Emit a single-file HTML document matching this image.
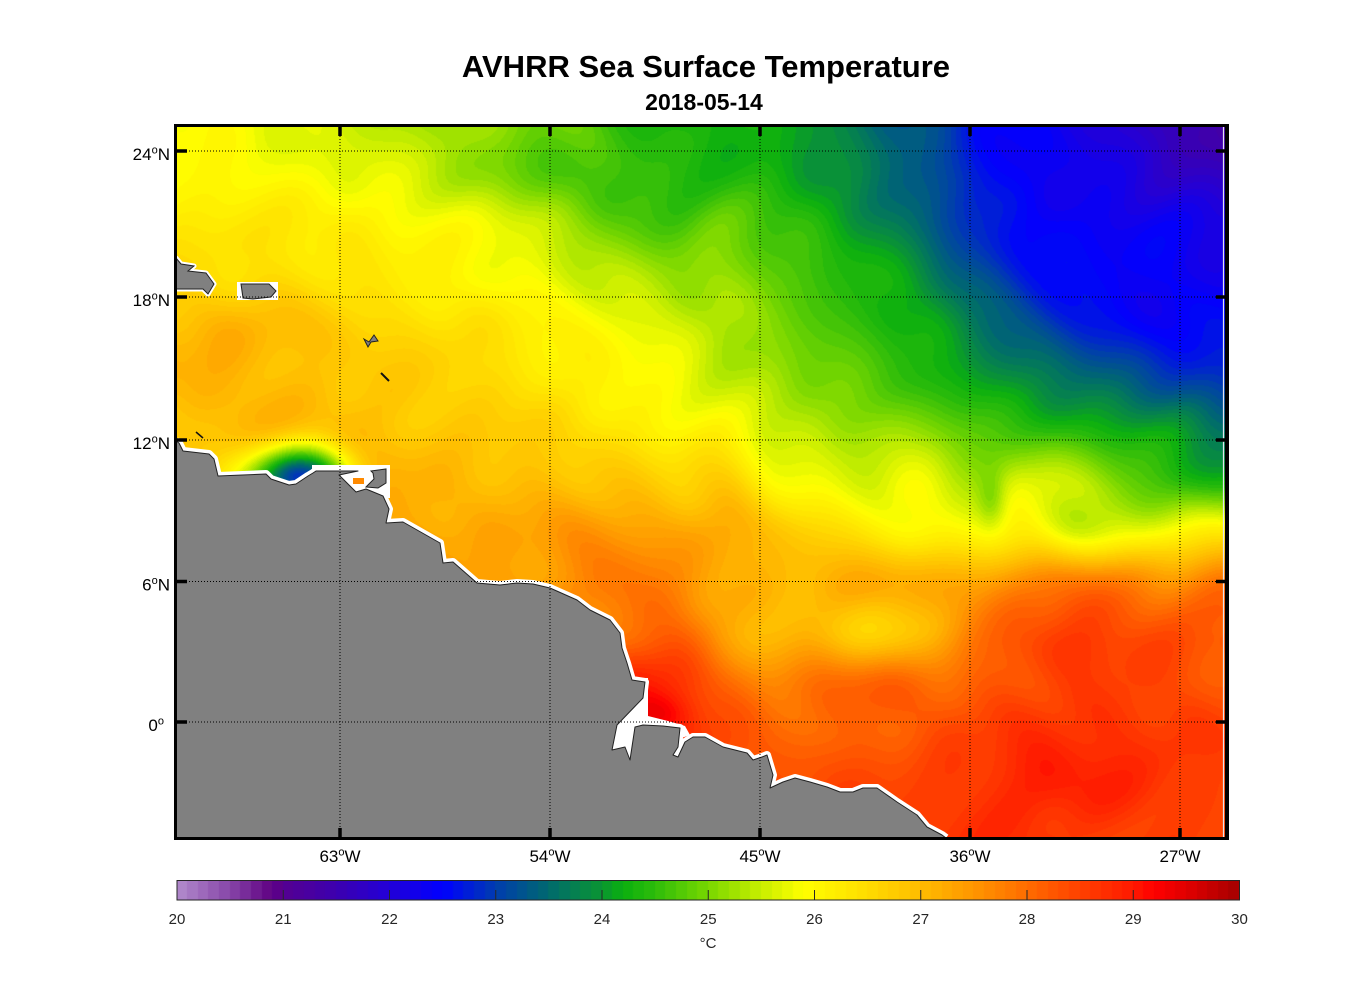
<!DOCTYPE html>
<html><head><meta charset="utf-8">
<style>
html,body{margin:0;padding:0;background:#fff;}
#wrap{position:relative;width:1356px;height:1000px;overflow:hidden;background:#fff;}
#map{position:absolute;left:177px;top:127px;}
#cb{position:absolute;left:177px;top:880px;}
svg{position:absolute;left:0;top:0;}
text{font-family:"Liberation Sans",Arial,sans-serif;}
</style></head>
<body><div id="wrap">
<canvas id="map" width="1048" height="710"></canvas>
<canvas id="cb" width="1063" height="20"></canvas>
<svg width="1356" height="1000" viewBox="0 0 1356 1000">
<defs><clipPath id="pc"><rect x="177" y="127" width="1048" height="710"/></clipPath></defs>
<g clip-path="url(#pc)">
  <!-- white no-data patches -->
  <rect x="312" y="465" width="78" height="33" fill="#fff"/>
  <polygon points="640,678 648,678 648,716 668,721 685,726 690,735 605,765 608,715" fill="#fff"/>
  <polyline points="176,441 179,443 183,451 209,454 214,459 218,476 266,474 271,479 289,485 296,484 308,476 313,473 316,471 358,471 339,475 356,492 366,489 383,496 389,509 386,523 403,522 440,543 443,563 453,562 477,583 500,585 517,583 533,584 550,588 577,600 590,610 610,620 620,633 622,648 627,663 632,680 645,682 643,698 617,725 612,750 625,747 630,760 635,727 643,725 663,726 680,728 678,747 673,755 678,757 685,742 693,737 705,737 723,747 747,753 753,760 762,757 767,755 773,775 770,788 783,782 795,778 810,782 827,787 840,792 853,792 863,788 877,788 897,802 917,815 927,827 942,835 946,838" fill="none" stroke="#fff" stroke-width="8" stroke-linejoin="round"/>
  <rect x="353" y="478" width="11" height="6" fill="#ff8a00"/>
  <!-- land -->
  <polygon points="176,441 179,443 183,451 209,454 214,459 218,476 266,474 271,479 289,485 296,484 308,476 313,473 316,471 358,471 339,475 356,492 366,489 383,496 389,509 386,523 403,522 440,543 443,563 453,562 477,583 500,585 517,583 533,584 550,588 577,600 590,610 610,620 620,633 622,648 627,663 632,680 645,682 643,698 617,725 612,750 625,747 630,760 635,727 643,725 663,726 680,728 678,747 673,755 678,757 685,742 693,737 705,737 723,747 747,753 753,760 762,757 767,755 773,775 770,788 783,782 795,778 810,782 827,787 840,792 853,792 863,788 877,788 897,802 917,815 927,827 942,835 946,838 946,842 172,842 172,441" fill="#808080" stroke="#222" stroke-width="1" stroke-linejoin="round"/>
  <!-- Trinidad -->
  <polygon points="371,471 386,469 386,483 378,488 366,487 374,479 373,473" fill="#808080" stroke="#222" stroke-width="1"/>
  <!-- Hispaniola -->
  <polygon points="176,258 181,264 194,266 188,271 206,273 214,284 208,294 203,289 176,289" fill="#808080" stroke="#fff" stroke-width="5" stroke-linejoin="round"/>
  <polygon points="176,258 181,264 194,266 188,271 206,273 214,284 208,294 203,289 176,289" fill="#808080" stroke="#222" stroke-width="1"/>
  <!-- Puerto Rico -->
  <rect x="237" y="282" width="41" height="18" fill="#fff"/>
  <polygon points="241,284 269,284 276,291 271,297 253,299 243,298" fill="#808080" stroke="#222" stroke-width="1"/>
  <!-- small islands -->
  <polygon points="364,339 369,342 374,335 378,341 371,342 368,347" fill="#808080" stroke="#222" stroke-width="1"/>
  <line x1="381" y1="373" x2="389" y2="381" stroke="#111" stroke-width="2"/>
  <line x1="196" y1="432" x2="203" y2="438" stroke="#111" stroke-width="1.5"/>
  <line x1="1223.5" y1="127" x2="1223.5" y2="837" stroke="#e4e4ee" stroke-width="1.2"/>
</g>
<!-- grid -->
<g stroke="#000" stroke-width="1" stroke-dasharray="1 2" fill="none">
  <line x1="177" y1="151" x2="1225" y2="151"/>
  <line x1="177" y1="297" x2="1225" y2="297"/>
  <line x1="177" y1="440" x2="1225" y2="440"/>
  <line x1="177" y1="581.5" x2="1225" y2="581.5"/>
  <line x1="177" y1="722" x2="1225" y2="722"/>
  <line x1="340" y1="127" x2="340" y2="837"/>
  <line x1="550" y1="127" x2="550" y2="837"/>
  <line x1="760" y1="127" x2="760" y2="837"/>
  <line x1="970" y1="127" x2="970" y2="837"/>
  <line x1="1180" y1="127" x2="1180" y2="837"/>
</g>
<!-- ticks -->
<g stroke="#000" stroke-width="3.5">
  <line x1="340" y1="127" x2="340" y2="136"/><line x1="550" y1="127" x2="550" y2="136"/><line x1="760" y1="127" x2="760" y2="136"/><line x1="970" y1="127" x2="970" y2="136"/><line x1="1180" y1="127" x2="1180" y2="136"/>
  <line x1="340" y1="828" x2="340" y2="837"/><line x1="550" y1="828" x2="550" y2="837"/><line x1="760" y1="828" x2="760" y2="837"/><line x1="970" y1="828" x2="970" y2="837"/><line x1="1180" y1="828" x2="1180" y2="837"/>
  <line x1="177" y1="151" x2="187" y2="151"/><line x1="177" y1="297" x2="187" y2="297"/><line x1="177" y1="440" x2="187" y2="440"/><line x1="177" y1="581.5" x2="187" y2="581.5"/><line x1="177" y1="722" x2="187" y2="722"/>
  <line x1="1216" y1="151" x2="1225" y2="151"/><line x1="1216" y1="297" x2="1225" y2="297"/><line x1="1216" y1="440" x2="1225" y2="440"/><line x1="1216" y1="581.5" x2="1225" y2="581.5"/><line x1="1216" y1="722" x2="1225" y2="722"/>
</g>
<!-- frame -->
<g stroke="#000">
  <line x1="175.5" y1="124" x2="175.5" y2="840" stroke-width="3"/>
  <line x1="174" y1="125.5" x2="1229" y2="125.5" stroke-width="3"/>
  <line x1="1227" y1="124" x2="1227" y2="840" stroke-width="4"/>
  <line x1="174" y1="838.5" x2="1229" y2="838.5" stroke-width="3"/>
</g>
<!-- titles -->
<text x="706" y="77" text-anchor="middle" font-size="31" font-weight="bold" fill="#000">AVHRR Sea Surface Temperature</text>
<text x="704" y="110" text-anchor="middle" font-size="23" font-weight="bold" fill="#000">2018-05-14</text>
<!-- lat labels -->
<g font-size="17" fill="#000" text-anchor="end">
  <text x="170" y="160">24<tspan font-size="11" dy="-6.5">o</tspan><tspan dy="6.5">N</tspan></text>
  <text x="170" y="306">18<tspan font-size="11" dy="-6.5">o</tspan><tspan dy="6.5">N</tspan></text>
  <text x="170" y="449">12<tspan font-size="11" dy="-6.5">o</tspan><tspan dy="6.5">N</tspan></text>
  <text x="170" y="590.5">6<tspan font-size="11" dy="-6.5">o</tspan><tspan dy="6.5">N</tspan></text>
  <text x="164" y="731">0<tspan font-size="11" dy="-6.5">o</tspan></text>
</g>
<!-- lon labels -->
<g font-size="17" fill="#000" text-anchor="middle">
  <text x="340" y="862">63<tspan font-size="11" dy="-6.5">o</tspan><tspan dy="6.5">W</tspan></text>
  <text x="550" y="862">54<tspan font-size="11" dy="-6.5">o</tspan><tspan dy="6.5">W</tspan></text>
  <text x="760" y="862">45<tspan font-size="11" dy="-6.5">o</tspan><tspan dy="6.5">W</tspan></text>
  <text x="970" y="862">36<tspan font-size="11" dy="-6.5">o</tspan><tspan dy="6.5">W</tspan></text>
  <text x="1180" y="862">27<tspan font-size="11" dy="-6.5">o</tspan><tspan dy="6.5">W</tspan></text>
</g>
<!-- colorbar frame & ticks -->
<rect x="177" y="880.5" width="1062.5" height="19.5" fill="none" stroke="#262626" stroke-width="1"/>
<g stroke="#262626" stroke-width="1">
  <line x1="283.25" y1="890" x2="283.25" y2="900"/><line x1="389.5" y1="890" x2="389.5" y2="900"/><line x1="495.75" y1="890" x2="495.75" y2="900"/><line x1="602" y1="890" x2="602" y2="900"/><line x1="708.25" y1="890" x2="708.25" y2="900"/><line x1="814.5" y1="890" x2="814.5" y2="900"/><line x1="920.75" y1="890" x2="920.75" y2="900"/><line x1="1027" y1="890" x2="1027" y2="900"/><line x1="1133.25" y1="890" x2="1133.25" y2="900"/>
</g>
<g font-size="15" fill="#262626" text-anchor="middle">
  <text x="177" y="924">20</text><text x="283.25" y="924">21</text><text x="389.5" y="924">22</text><text x="495.75" y="924">23</text><text x="602" y="924">24</text><text x="708.25" y="924">25</text><text x="814.5" y="924">26</text><text x="920.75" y="924">27</text><text x="1027" y="924">28</text><text x="1133.25" y="924">29</text><text x="1239.5" y="924">30</text>
  <text x="708" y="948">°C</text>
</g>
</svg>
</div>
<script>
(function(){
var G=[
[26.0,25.9,25.7,25.6,25.4,25.3,25.2,25.0,24.8,24.5,24.3,24.3,24.2,23.9,23.5,23.2,22.6,22.4,22.2,21.9,21.6,21.3],
[26.0,26.0,26.0,25.8,25.8,25.5,25.2,24.9,24.7,24.6,24.4,24.4,24.3,24.0,23.6,23.3,22.8,22.4,22.3,22.1,21.9,21.7],
[26.3,26.3,26.3,26.2,26.1,26.0,25.9,25.6,25.2,24.8,24.7,24.9,24.6,24.3,23.9,23.4,22.8,22.5,22.4,22.4,22.3,22.2],
[26.5,26.5,26.5,26.4,26.3,26.1,26.0,25.9,25.6,25.4,25.2,25.2,24.9,24.5,24.3,23.9,23.3,22.8,22.5,22.4,22.4,22.3],
[27.0,27.1,27.0,26.8,26.6,26.5,26.4,26.2,26.0,25.9,25.6,25.3,25.0,24.7,24.5,24.2,23.7,23.2,22.9,22.6,22.4,22.6],
[27.1,27.1,27.0,26.9,26.8,26.7,26.6,26.4,26.2,26.0,25.8,25.5,25.3,25.0,24.7,24.4,24.2,23.9,23.6,23.3,23.1,22.9],
[26.8,27.0,27.1,27.0,27.0,26.8,26.8,26.7,26.5,26.3,26.1,26.0,25.5,25.3,25.3,25.1,24.7,24.5,24.4,24.3,24.0,23.6],
[27.0,26.6,26.8,27.0,27.3,27.1,27.0,27.0,26.9,26.8,26.6,26.8,26.0,25.8,25.5,25.9,25.3,25.8,25.4,24.9,24.5,24.4],
[27.0,27.0,27.0,27.1,27.2,27.3,27.2,27.3,27.5,27.5,27.3,27.2,26.8,26.6,26.3,26.0,26.0,26.1,25.7,25.8,26.0,26.2],
[27.4,27.4,27.4,27.4,27.4,27.4,27.4,27.4,27.6,27.9,27.6,27.3,27.1,27.1,27.2,27.2,27.4,27.7,27.9,27.7,27.6,28.0],
[27.9,27.9,27.9,27.9,27.9,27.9,27.9,27.9,27.9,27.9,28.3,27.2,27.0,27.0,26.7,27.0,27.8,28.3,28.6,28.5,28.3,28.2],
[28.9,28.9,28.9,28.9,28.9,28.9,28.9,28.9,28.9,28.9,28.7,28.1,27.8,28.0,28.1,28.0,28.2,28.4,28.5,28.5,28.4,28.3],
[28.7,28.7,28.7,28.7,28.7,28.7,28.7,28.7,28.7,28.7,28.7,28.4,28.0,28.1,28.2,28.3,28.5,28.7,28.8,28.7,28.6,28.5],
[28.4,28.4,28.4,28.4,28.4,28.4,28.4,28.4,28.4,28.4,28.4,28.4,28.4,28.4,28.4,28.5,28.7,28.9,28.9,28.8,28.6,28.5],
[28.6,28.6,28.6,28.6,28.6,28.6,28.6,28.6,28.6,28.6,28.6,28.6,28.6,28.6,28.6,28.6,28.7,28.7,28.6,28.6,28.5,28.4]
];
var NX=22,NY=15,DX=50,DY=711/14;
var bumps=[[300,478,35,22,-3.9],[660,715,25,15,0.5],[992,500,10,20,-0.6]];
var cm=[[20,178,140,205],[20.5,135,70,168],[20.9,95,0,130],[21.0,85,0,145],[21.5,60,0,175],[22,35,0,215],[22.5,0,0,255],[23,0,60,175],[23.5,0,105,110],[24,10,150,50],[24.2,10,175,15],[24.5,45,188,10],[25,120,215,0],[25.5,200,238,0],[25.9,255,255,0],[26.5,255,220,0],[27,255,188,0],[27.5,255,150,0],[28,255,108,0],[28.5,255,65,0],[29,255,25,0],[29.2,255,0,0],[29.5,225,0,0],[30,165,0,0]];
function cmap(t){
  if(t<=cm[0][0])return [cm[0][1],cm[0][2],cm[0][3]];
  for(var k=1;k<cm.length;k++){
    if(t<=cm[k][0]){var a=cm[k-1],b=cm[k],f=(t-a[0])/(b[0]-a[0]);
      return [a[1]+(b[1]-a[1])*f,a[2]+(b[2]-a[2])*f,a[3]+(b[3]-a[3])*f];}
  }
  var l=cm[cm.length-1];return [l[1],l[2],l[3]];
}
var LUT=[];for(var q=0;q<100;q++){LUT.push(cmap(20+q*0.1+0.05));}
function lut(t){var q=Math.floor((t-20)*10);if(q<0)q=0;if(q>99)q=99;return LUT[q];}
function cr(p0,p1,p2,p3,t){return p1+0.5*t*(p2-p0+t*(2*p0-5*p1+4*p2-p3+t*(3*(p1-p2)+p3-p0)));}
function g(j,i){if(j<0)j=0;if(j>NY-1)j=NY-1;if(i<0)i=0;if(i>NX-1)i=NX-1;return G[j][i];}
function val(X,Y){
  var u=(X-176)/DX,v=(Y-126)/DY,i=Math.floor(u),j=Math.floor(v),fu=u-i,fv=v-j;
  var r=[];for(var m=-1;m<=2;m++){r.push(cr(g(j+m,i-1),g(j+m,i),g(j+m,i+1),g(j+m,i+2),fu));}
  var t=cr(r[0],r[1],r[2],r[3],fv);
  for(var b=0;b<bumps.length;b++){var B=bumps[b],dx=(X-B[0])/B[2],dy=(Y-B[1])/B[3];t+=B[4]*Math.exp(-0.5*(dx*dx+dy*dy));}
  t+=0.07*Math.sin(X*0.07+2*Math.sin(Y*0.031))+0.07*Math.sin(Y*0.06+2*Math.sin(X*0.027));
  return t;
}
var c=document.getElementById('map'),ctx=c.getContext('2d');
var W=c.width,H=c.height,img=ctx.createImageData(W,H),d=img.data;
for(var py=0;py<H;py++){for(var px=0;px<W;px++){
  var col=lut(val(177+px+0.5,127+py+0.5)),o=(py*W+px)*4;
  d[o]=col[0];d[o+1]=col[1];d[o+2]=col[2];d[o+3]=255;}}
ctx.putImageData(img,0,0);
var cb=document.getElementById('cb'),cx=cb.getContext('2d');
var w=1062.5/100;
for(var q2=0;q2<100;q2++){var cc=LUT[q2];cx.fillStyle='rgb('+Math.round(cc[0])+','+Math.round(cc[1])+','+Math.round(cc[2])+')';cx.fillRect(Math.floor(q2*w),0,Math.ceil(w)+1,20);}
})();
</script>
</body></html>
